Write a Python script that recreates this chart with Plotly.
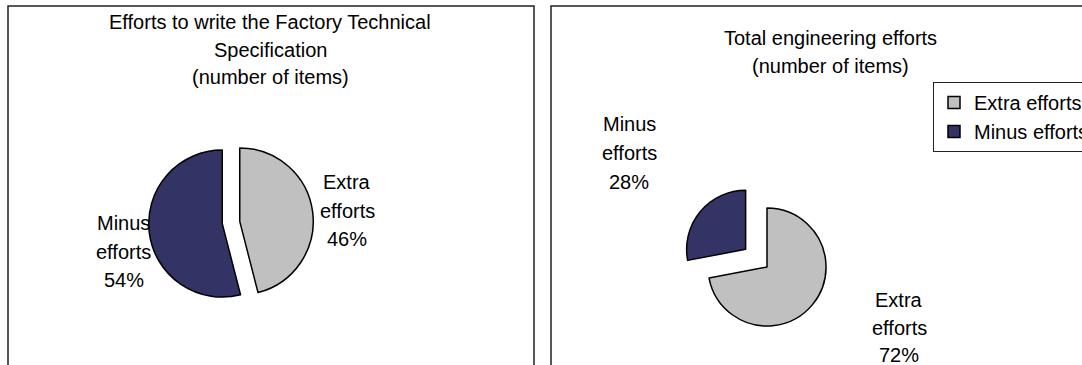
import plotly.graph_objects as go

W, H = 1082, 365

labels = ["Extra efforts", "Minus efforts"]
colors = ["#C0C0C0", "#333366"]

# percentages
spec_values = [46, 54]
total_values = [72, 28]

spec_title = ["Efforts to write the Factory Technical", "Specification", "(number of items)"]
total_title = ["Total engineering efforts", "(number of items)"]

FONT = "Arial, Liberation Sans, sans-serif"


def px_x(x):
    return x / W


def px_y(y):
    return 1 - y / H


def pie_domain(cx, cy, half):
    return dict(x=[px_x(cx - half), px_x(cx + half)], y=[px_y(cy + half), px_y(cy - half)])


fig = go.Figure()

# left pie: both slices pulled apart a little
fig.add_trace(go.Pie(
    labels=labels, values=spec_values, sort=False, direction="clockwise", rotation=0,
    pull=[0.12, 0.12], textinfo="none", hoverinfo="label+percent",
    marker=dict(colors=colors, line=dict(color="black", width=1.5)),
    domain=pie_domain(231, 222.5, 73.5 * 1.12), showlegend=False,
))

# right pie: minus slice exploded
fig.add_trace(go.Pie(
    labels=labels, values=total_values, sort=False, direction="clockwise", rotation=0,
    pull=[0, 0.47], textinfo="none", hoverinfo="label+percent",
    marker=dict(colors=colors, line=dict(color="black", width=1.5)),
    domain=pie_domain(767, 267, 59 * 1.47),
))


def add_lines(lines, x, baseline0, pitch):
    for i, t in enumerate(lines):
        fig.add_annotation(
            text=t, x=px_x(x), y=px_y(baseline0 + i * pitch - 7), xref="paper", yref="paper",
            xanchor="center", yanchor="middle", showarrow=False,
            font=dict(family=FONT, size=20, color="black"),
        )


def slice_lines(label, values, i):
    pct = round(values[i] / sum(values) * 100)
    first, second = label.split()
    return [first, second, f"{pct}%"]


add_lines(spec_title, 270, 29, 27.5)
add_lines(total_title, 830, 45, 28)

add_lines(slice_lines(labels[0], spec_values, 0), 347, 189, 28.5)
add_lines(slice_lines(labels[1], spec_values, 1), 124, 230, 28.5)
add_lines(slice_lines(labels[1], total_values, 1), 629, 131, 29)
add_lines(slice_lines(labels[0], total_values, 0), 899, 307, 27.5)

# chart frames
frame = dict(color="#222222", width=1.5)
fig.add_shape(type="rect", xref="paper", yref="paper",
              x0=px_x(8), x1=px_x(534), y0=px_y(H + 20), y1=px_y(6), line=frame)
fig.add_shape(type="rect", xref="paper", yref="paper",
              x0=px_x(551), x1=px_x(1112), y0=px_y(H + 20), y1=px_y(6), line=frame)

fig.update_layout(
    width=W, height=H,
    margin=dict(l=0, r=0, t=0, b=0, autoexpand=False),
    paper_bgcolor="white", plot_bgcolor="white",
    font=dict(family=FONT, size=20, color="black"),
    legend=dict(
        x=px_x(933), y=px_y(82), xanchor="left", yanchor="top",
        bordercolor="#222222", borderwidth=1, bgcolor="white",
        font=dict(family=FONT, size=20, color="black"),
        itemwidth=30, tracegroupgap=0,
    ),
)

fig.write_html(
    "out.html",
    config={"displayModeBar": False},
    post_script="document.body.style.margin='0';",
)
